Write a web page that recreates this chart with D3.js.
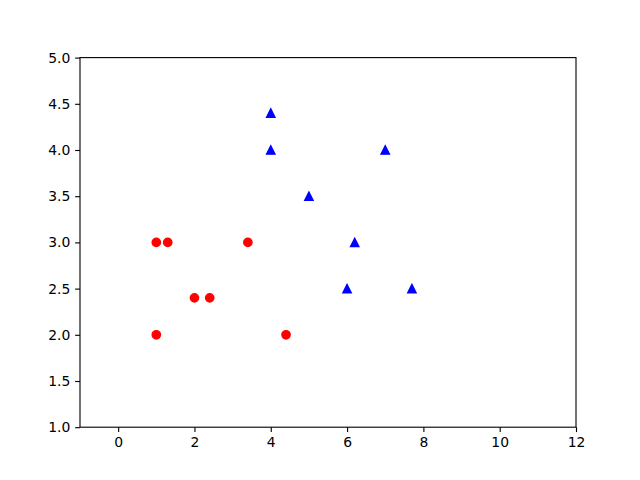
<!DOCTYPE html>
<html><head><meta charset="utf-8">
<script src="https://cdn.jsdelivr.net/npm/d3@7"></script>
<style>body{margin:0;background:#fff}</style>
</head><body>
<script>
const redX = [1, 1.3, 3.4, 2, 2.4, 1, 4.4];
const redY = [3, 3, 3, 2.4, 2.4, 2, 2];
const blueX = [4, 4, 7, 5, 6.2, 6, 7.7];
const blueY = [4.4, 4, 4, 3.5, 3, 2.5, 2.5];
const xTicks = [0, 2, 4, 6, 8, 10, 12];
const yTicks = [1.0, 1.5, 2.0, 2.5, 3.0, 3.5, 4.0, 4.5, 5.0];

const W = 640, H = 480;
const m = {left: 80, right: 576, top: 57.6, bottom: 427.2};
const svg = d3.select("body").append("svg").attr("width", W).attr("height", H);
const x = d3.scaleLinear().domain([-1, 12]).range([m.left, m.right]);
const y = d3.scaleLinear().domain([1, 5]).range([m.bottom, m.top]);

const font = "DejaVu Sans, sans-serif";
const xa = svg.append("g").attr("transform", `translate(0,${m.bottom})`)
  .call(d3.axisBottom(x).tickValues(xTicks).tickFormat(d3.format("d")).tickSizeOuter(0).tickSize(4.86).tickPadding(4.86));
const ya = svg.append("g").attr("transform", `translate(${m.left},0)`)
  .call(d3.axisLeft(y).tickValues(yTicks).tickFormat(d3.format(".1f")).tickSizeOuter(0).tickSize(4.86).tickPadding(4.86));
[xa, ya].forEach(a => {
  a.select(".domain").remove();
  a.selectAll("line").attr("stroke", "#000").attr("stroke-width", 1.11);
  a.selectAll("text").attr("font-family", font).attr("font-size", "13.9px").attr("fill", "#000");
});
svg.append("rect").attr("x", m.left).attr("y", m.top).attr("width", m.right - m.left).attr("height", m.bottom - m.top)
  .attr("fill", "none").attr("stroke", "#000").attr("stroke-width", 1.11);

const s = 8.33;
svg.append("g").selectAll("circle").data(redX.map((d, i) => [d, redY[i]])).join("circle")
  .attr("cx", d => x(d[0])).attr("cy", d => y(d[1])).attr("r", s / 2)
  .attr("fill", "#ff0000").attr("stroke", "#ff0000").attr("stroke-width", 1.39);
const tri = `M0,${-s/2}L${-s/2},${s/2}L${s/2},${s/2}Z`;
svg.append("g").selectAll("path").data(blueX.map((d, i) => [d, blueY[i]])).join("path")
  .attr("d", tri).attr("transform", d => `translate(${x(d[0])},${y(d[1])})`)
  .attr("fill", "#0000ff").attr("stroke", "#0000ff").attr("stroke-width", 1.39).attr("stroke-linejoin", "miter");
</script>
</body></html>
